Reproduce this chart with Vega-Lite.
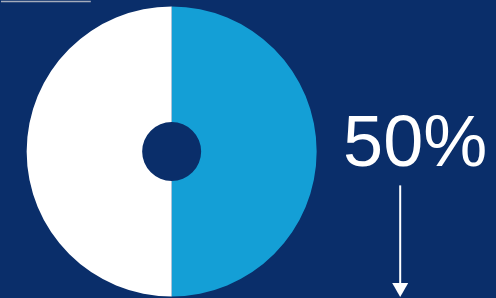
{
  "$schema": "https://vega.github.io/schema/vega-lite/v6.json",
  "width": 496,
  "height": 298,
  "autosize": {"type": "fit", "contains": "padding"},
  "padding": 0,
  "background": "#0a2e6a",
  "config": {"view": {"stroke": null}},
  "layer": [
    {
      "data": {"values": [{"segment": "Right", "value": 50, "rank": 1}, {"segment": "Left", "value": 50, "rank": 2}]},
      "mark": {"type": "arc", "outerRadius": 145, "innerRadius": 29.5, "stroke": null},
      "encoding": {
        "x": {"datum": 171, "type": "quantitative", "scale": {"domain": [0, 496], "nice": false, "zero": false}, "axis": null},
        "y": {"datum": 151, "type": "quantitative", "scale": {"domain": [0, 298], "nice": false, "zero": false, "reverse": true}, "axis": null},
        "theta": {"field": "value", "type": "quantitative", "stack": true},
        "order": {"field": "rank", "type": "quantitative"},
        "color": {"field": "segment", "type": "nominal", "scale": {"domain": ["Right", "Left"], "range": ["#149fd6", "#ffffff"]}, "legend": null}
      }
    },
    {
      "data": {"values": [{"label": "50%"}]},
      "mark": {"type": "text", "font": "Liberation Sans", "fontSize": 72, "color": "#ffffff", "align": "center", "baseline": "alphabetic"},
      "encoding": {
        "x": {"datum": 415, "type": "quantitative"},
        "y": {"datum": 166, "type": "quantitative"},
        "text": {"field": "label"}
      }
    },
    {
      "data": {"values": [{"part": "shaft"}]},
      "mark": {"type": "rule", "color": "#ffffff", "strokeWidth": 2},
      "encoding": {
        "x": {"datum": 400, "type": "quantitative"},
        "y": {"datum": 185, "type": "quantitative"},
        "y2": {"datum": 285}
      }
    },
    {
      "data": {"values": [{"part": "head"}]},
      "mark": {"type": "point", "shape": "triangle-down", "size": 256, "filled": true, "color": "#ffffff", "opacity": 1, "strokeWidth": 0},
      "encoding": {
        "x": {"datum": 400, "type": "quantitative"},
        "y": {"datum": 290, "type": "quantitative"}
      }
    },
    {
      "data": {"values": [{"part": "edge"}]},
      "mark": {"type": "rule", "color": "#a3abbb", "strokeWidth": 1.5},
      "encoding": {
        "x": {"datum": 0, "type": "quantitative"},
        "x2": {"datum": 90},
        "y": {"datum": 0.5, "type": "quantitative"}
      }
    }
  ]
}
